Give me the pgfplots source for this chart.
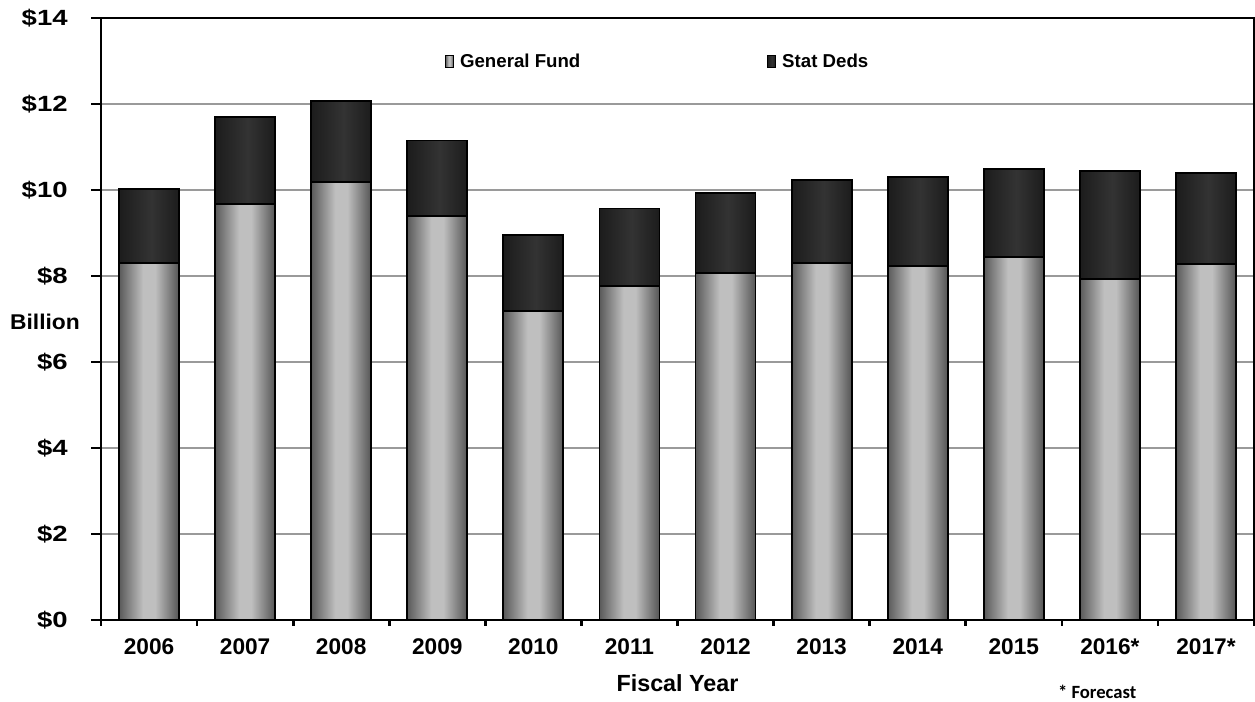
\documentclass[border=0pt]{standalone}
\usepackage{graphicx}
\usepackage{pgfplots}
\usepackage{pgfplotstable}
\pgfplotsset{compat=1.18}
\usepackage{fontspec}
\setmainfont{Liberation Sans}
\newfontfamily\calibri{Carlito}

\definecolor{gfedge}{HTML}{5A5A5A}
\definecolor{gfmid}{HTML}{BFBFBF}
\definecolor{gfedgeR}{HTML}{555555}
\definecolor{sdedge}{HTML}{1C1C1C}
\definecolor{sdmid}{HTML}{333333}
\definecolor{gridgray}{HTML}{9A9A9A}

% tikz maps the bar's box onto 25bp..75bp of the shading
\pgfdeclarehorizontalshading{gfshade}{100bp}{color(0bp)=(gfedge); color(25bp)=(gfedge); color(45bp)=(gfmid); color(55bp)=(gfmid); color(75bp)=(gfedgeR); color(100bp)=(gfedgeR)}
\pgfdeclarehorizontalshading{sdshade}{100bp}{color(0bp)=(sdedge); color(25bp)=(sdedge); color(52bp)=(sdmid); color(75bp)=(sdedge); color(100bp)=(sdedge)}

% fiscal year index, general fund, statutory dedications ($ billion)
\pgfplotstableread{
idx gf    sd
0   8.31  1.71
1   9.68  2.01
2   10.18 1.88
3   9.40  1.75
4   7.18  1.77
5   7.76  1.81
6   8.06  1.87
7   8.30  1.93
8   8.23  2.08
9   8.44  2.04
10  7.94  2.50
11  8.27  2.12
}\budget

\newcommand{\yl}[1]{\scalebox{1.25}[1]{#1}}

\begin{document}
\begin{tikzpicture}
\path[use as bounding box] (-75.75pt,-61.5pt) rectangle (865.5pt,465pt);
\begin{axis}[
  at={(0,0)}, anchor=south west,
  scale only axis, width=864.75pt, height=451.5pt,
  clip=false,
  xmin=-0.5, xmax=11.5, ymin=0, ymax=14,
  xtick={0,...,11},
  xticklabels={2006,2007,2008,2009,2010,2011,2012,2013,2014,2015,2016*,2017*},
  minor xtick={-0.5,0.5,...,11.5},
  major x tick style={draw=none},
  ytick={0,2,...,14},
  yticklabels={\yl{\$0},\yl{\$2},\yl{\$4},\yl{\$6},\yl{\$8},\yl{\$10},\yl{\$12},\yl{\$14}},
  xtick pos=bottom, ytick pos=left,
  tick align=outside,
  major tick length=7.5pt, minor tick length=4.5pt,
  tick style={black, line width=2pt},
  axis line style={black, line width=2.2pt},
  ymajorgrids, grid style={gridgray, line width=2.2pt},
  yticklabel style={font=\fontsize{16.5}{19}\selectfont\bfseries, xshift=-14pt},
  xticklabel style={font=\fontsize{17}{20}\selectfont\bfseries, yshift=-3pt},
  xlabel={Fiscal Year},
  xlabel style={font=\fontsize{17.5}{20}\selectfont\bfseries, at={(axis description cs:0.5,-0.1047)}, anchor=center},
  ylabel={\scalebox{1.07}[1]{Billion}},
  ylabel style={font=\fontsize{16}{19}\selectfont\bfseries, rotate=-90, at={(axis description cs:-0.0486,0.495)}, anchor=center},
  legend columns=2,
  legend style={at={(axis description cs:0.298,0.927)}, anchor=west, draw=none, fill=none, inner sep=0pt,
    font=\fontsize{14}{17}\selectfont\bfseries},
  legend image code/.code={\draw[#1, line width=0.8pt] (0pt,-4.5pt) rectangle (6pt,4.5pt);
    \path[draw=none] (9pt,0pt);},
  gfface/.style={draw=black, shading=gfshade},
  sdface/.style={draw=black, shading=sdshade},
  barbase/.style={ybar, bar shift=0pt, bar width=45pt, line width=1.4pt, forget plot},
]
% one plot per bar so that every bar gets its own shading;
% the total is drawn first and the general fund part over its lower end
\pgfplotsinvokeforeach{0,...,11}{
  \addplot[barbase, sdface, x filter/.expression={abs(x-#1)<0.2 ? x : nan}]
    table[x=idx, y expr=\thisrow{gf}+\thisrow{sd}] {\budget};
  \addplot[barbase, gfface, x filter/.expression={abs(x-#1)<0.2 ? x : nan}]
    table[x=idx, y=gf] {\budget};
}
\addlegendimage{gfface}
\addlegendentry{General Fund\hspace{138pt}\mbox{}}
\addlegendimage{sdface}
\addlegendentry{Stat Deds}
\node[font=\calibri\bfseries\fontsize{14}{16}\selectfont] at (axis description cs:0.864,-0.1196) {* Forecast};
\end{axis}
\end{tikzpicture}
\end{document}
